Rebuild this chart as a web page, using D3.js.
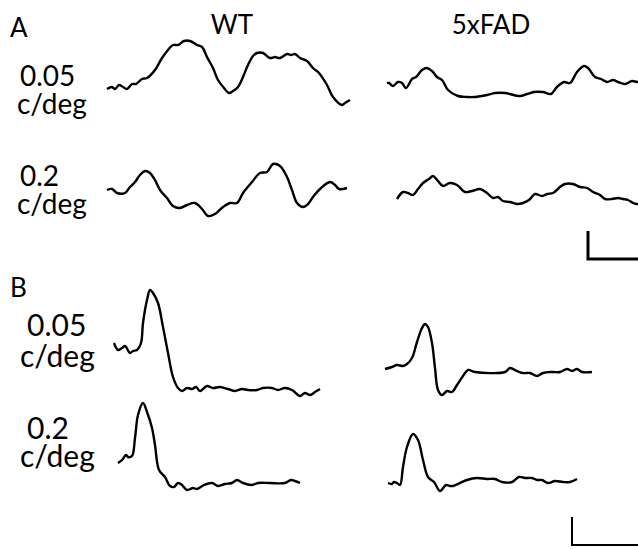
<!DOCTYPE html>
<html>
<head>
<meta charset="utf-8">
<script src="https://cdn.jsdelivr.net/npm/d3@7"></script>
<style>
  html, body { margin: 0; padding: 0; background: #fff; }
  svg text { font-family: Lato, "Noto Sans", sans-serif; fill: #000; }
</style>
</head>
<body>
<div id="canvas"></div>
<script>
const W = 638, H = 549;

// column / row labels
const columns = ["WT", "5xFAD"];
const freqs = ["0.05", "0.2"];
const panels = ["A", "B"];

// traces: [time (ms from column start), amplitude]
const wtA005 = [[7,1],[12,3],[15,1],[19,5],[23,3],[27,1],[32,6],[36,6],[42,11],[47,12],[55,20],[62,32],[68,40],[73,45],[78,45],[84,49],[90,49],[97,45],[102,43],[107,33],[113,22],[118,10],[124,2],[129,-3],[133,-1],[138,3],[143,13],[148,25],[153,34],[157,37],[163,37],[170,32],[175,33],[180,32],[187,36],[191,35],[195,36],[200,32],[207,29],[213,22],[219,17],[227,5],[233,-7],[242,-15],[245,-13],[250,-10]];
const fadA005 = [[7,7],[9,7],[13,4],[18,8],[22,7],[26,2],[32,11],[36,13],[42,20],[47,22],[52,19],[57,13],[62,10],[68,0],[78,-6],[87,-7],[95,-7],[107,-5],[115,-3],[125,-3],[140,-6],[147,-4],[154,-2],[163,-2],[171,-4],[177,3],[184,8],[190,7],[197,18],[204,24],[208,22],[215,13],[221,11],[227,8],[233,10],[238,8],[245,6],[252,9],[257,8],[262,8]];
const wtA02 = [[7,10],[12,11],[17,7],[25,7],[30,13],[35,18],[40,25],[45,29],[50,27],[55,20],[60,10],[67,2],[73,-6],[80,-8],[87,-5],[95,-3],[102,-9],[108,-16],[115,-14],[123,-7],[130,-3],[137,-3],[143,7],[152,18],[160,27],[167,28],[173,36],[180,34],[187,23],[192,10],[197,-3],[203,-7],[208,-4],[213,3],[220,11],[230,18],[235,15],[239,11],[247,12]];
const fadA02 = [[17,1],[23,8],[28,7],[33,5],[38,11],[43,17],[49,21],[53,24],[58,19],[63,14],[70,17],[77,15],[85,8],[92,9],[100,11],[107,7],[113,2],[118,3],[123,-1],[130,-2],[137,-4],[143,-3],[149,0],[155,6],[162,4],[167,6],[173,7],[180,13],[185,16],[193,16],[200,13],[207,12],[213,8],[220,5],[225,1],[232,1],[238,2],[243,1],[248,0],[253,-3],[257,-4],[262,-4]];
const wtB005 = [[14,47],[18,40],[22,42],[25,44],[30,37],[33,39],[37,40],[41,47],[43,67],[47,90],[50,100],[53,97],[58,87],[63,63],[68,37],[73,13],[78,2],[82,-1],[87,2],[92,1],[96,3],[100,-1],[107,4],[113,2],[120,3],[128,1],[135,-1],[142,1],[148,0],[157,0],[163,2],[172,2],[178,0],[185,2],[192,0],[200,-6],[205,-3],[210,-5],[215,-2],[220,1]];
const fadB005 = [[5,21],[12,23],[17,25],[23,24],[27,26],[32,32],[37,48],[42,62],[45,66],[48,63],[52,47],[55,22],[58,0],[62,-5],[67,-1],[72,-2],[77,5],[83,14],[88,20],[95,18],[125,18],[130,22],[137,19],[143,17],[150,17],[157,14],[163,17],[172,18],[180,18],[187,21],[192,19],[197,21],[202,18],[212,18]];
const wtB02 = [[18,22],[22,25],[26,30],[28,28],[32,29],[35,47],[38,70],[43,82],[47,73],[52,57],[55,40],[59,15],[65,8],[70,-1],[74,-2],[78,2],[82,0],[87,-5],[93,-3],[97,-4],[104,0],[112,2],[118,-1],[125,1],[132,2],[137,5],[143,2],[152,0],[158,2],[170,2],[185,2],[191,5],[195,4],[200,2]];
const fadB02 = [[8,2],[12,1],[14,3],[17,2],[20,0],[23,18],[27,38],[33,51],[38,45],[43,25],[48,8],[54,3],[60,-6],[66,0],[70,-1],[73,-1],[80,2],[87,5],[97,7],[107,6],[115,6],[122,3],[132,3],[139,8],[145,7],[152,7],[157,5],[162,5],[168,2],[175,4],[183,3],[190,3],[197,6]];

// scale bars: corner [time, amplitude] plus lengths
const scaleBarA = { t: 208, v: -59, dt: 70, dv: 28 };
const scaleBarB = { t: 192, v: -60, dt: 70, dv: 28 };

const svg = d3.select("#canvas")
  .append("svg")
    .attr("width", W)
    .attr("height", H);

// one x scale per column, one y scale per trace row
const xWT = d3.scaleLinear().domain([0, 260]).range([100, 360]);
const xFAD = d3.scaleLinear().domain([0, 260]).range([380, 640]);
const rowBase = [90, 200, 390, 485];
const yRow = rowBase.map(b => d3.scaleLinear().domain([-60, 60]).range([b + 60, b - 60]));

const traces = [
  { data: wtA005, x: xWT, y: yRow[0] },
  { data: fadA005, x: xFAD, y: yRow[0] },
  { data: wtA02, x: xWT, y: yRow[1] },
  { data: fadA02, x: xFAD, y: yRow[1] },
  { data: wtB005, x: xWT, y: yRow[2] },
  { data: fadB005, x: xFAD, y: yRow[2] },
  { data: wtB02, x: xWT, y: yRow[3] },
  { data: fadB02, x: xFAD, y: yRow[3] }
];

traces.forEach(tr => {
  const line = d3.line()
    .x(d => tr.x(d[0]))
    .y(d => tr.y(d[1]))
    .curve(d3.curveCatmullRom.alpha(0.5));
  svg.append("path")
    .datum(tr.data)
    .attr("d", line)
    .style("fill", "none")
    .style("stroke", "#000")
    .style("stroke-width", 2.4)
    .style("stroke-linejoin", "round");
});

// scale bars
function scaleBar(sb, y, w) {
  const x0 = xFAD(sb.t), y0 = y(sb.v);
  svg.append("path")
    .attr("d", `M${x0},${y(sb.v + sb.dv)} L${x0},${y0} L${xFAD(sb.t + sb.dt)},${y0}`)
    .style("fill", "none")
    .style("stroke", "#000")
    .style("stroke-width", w);
}
scaleBar(scaleBarA, yRow[1], 3);
scaleBar(scaleBarB, yRow[3], 2);

// labels
const fs = 26;
svg.append("text").attr("x", 232).attr("y", 34).attr("text-anchor", "middle")
  .style("font-size", fs + "px").text(columns[0]);
svg.append("text").attr("x", 491).attr("y", 34).attr("text-anchor", "middle")
  .style("font-size", fs + "px").text(columns[1]);

svg.append("text").attr("x", 10).attr("y", 37).style("font-size", fs + "px").text(panels[0]);
svg.append("text").attr("x", 10).attr("y", 297).style("font-size", fs + "px").text(panels[1]);

const labelRows = [
  { f: freqs[0], y1: 86, y2: 114, x1: 20, x2: 17, s: 28 },
  { f: freqs[1], y1: 186, y2: 214, x1: 20, x2: 17, s: 28 },
  { f: freqs[0], y1: 336, y2: 367, x1: 27, x2: 20, s: 30 },
  { f: freqs[1], y1: 439, y2: 467, x1: 27, x2: 20, s: 30 }
];
labelRows.forEach(r => {
  svg.append("text").attr("x", r.x1).attr("y", r.y1).style("font-size", r.s + "px").text(r.f);
  svg.append("text").attr("x", r.x2).attr("y", r.y2).style("font-size", r.s + "px").text("c/deg");
});
</script>
</body>
</html>
